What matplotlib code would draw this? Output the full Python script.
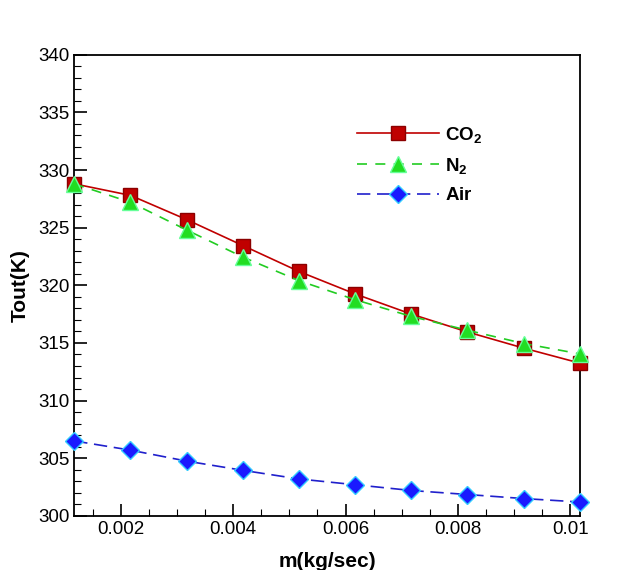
import matplotlib
matplotlib.use("Agg")
import matplotlib.pyplot as plt
from matplotlib.ticker import MultipleLocator

plt.rcParams['font.family'] = ['Liberation Sans', 'DejaVu Sans']
plt.rcParams['mathtext.fontset'] = 'custom'
plt.rcParams['mathtext.rm'] = 'Liberation Sans'
plt.rcParams['mathtext.bf'] = 'Liberation Sans:bold'

m_flow = [0.00117, 0.00217, 0.00317, 0.00417, 0.00517, 0.00617, 0.00717, 0.00817, 0.00917, 0.01017]
t_co2 = [328.8, 327.8, 325.7, 323.45, 321.2, 319.25, 317.5, 315.95, 314.55, 313.25]
t_n2 = [328.8, 327.2, 324.8, 322.45, 320.4, 318.75, 317.3, 316.1, 314.95, 314.05]
t_air = [306.5, 305.7, 304.75, 303.95, 303.2, 302.7, 302.2, 301.85, 301.5, 301.2]
labels = [r'$\mathbf{CO_2}$', r'$\mathbf{N_2}$', r'$\mathbf{Air}$']

fig = plt.figure(figsize=(6.4, 5.7), dpi=100)
ax = fig.add_axes([0.116, 0.095, 0.790, 0.809])

ax.plot(m_flow, t_co2, '-', color='#c00000', lw=1.2, marker='s', ms=10,
        mfc='#c00000', mec='#8b0000', label=labels[0], clip_on=False, zorder=3)
ax.plot(m_flow, t_n2, '--', color='#22cc22', lw=1.2, dashes=(6, 5), marker='^', ms=11,
        mfc='#22dd22', mec='#66ff99', label=labels[1], clip_on=False, zorder=4)
ax.plot(m_flow, t_air, '--', color='#2020cc', lw=1.2, dashes=(8, 4), marker='D', ms=9,
        mfc='#1a1aff', mec='#33ccff', label=labels[2], clip_on=False, zorder=3)

ax.set_xlim(m_flow[0], m_flow[-1])
ax.set_ylim(300, 340)
ax.xaxis.set_minor_locator(MultipleLocator(0.0005))
ax.yaxis.set_major_locator(MultipleLocator(5))
ax.yaxis.set_minor_locator(MultipleLocator(1))
ax.set_xticks([0.002, 0.004, 0.006, 0.008, 0.01])
ax.set_xticklabels(['0.002', '0.004', '0.006', '0.008', '0.01'])
ax.tick_params(which='both', direction='in', top=False, right=False, labelsize=13.5)
ax.tick_params(which='major', length=9, width=1.2)
ax.tick_params(which='minor', length=5, width=0.8)
for s in ax.spines.values():
    s.set_linewidth(1.3)

ax.set_xlabel('m(kg/sec)', fontsize=15, fontweight='bold', labelpad=10)
ax.set_ylabel('Tout(K)', fontsize=15, fontweight='bold', labelpad=6)

leg = ax.legend(loc='upper left', bbox_to_anchor=(0.525, 0.885), frameon=False,
                fontsize=13.5, handlelength=4.4, numpoints=1, labelspacing=0.6,
                handletextpad=0.3)

fig.savefig('out.png', dpi=100)
